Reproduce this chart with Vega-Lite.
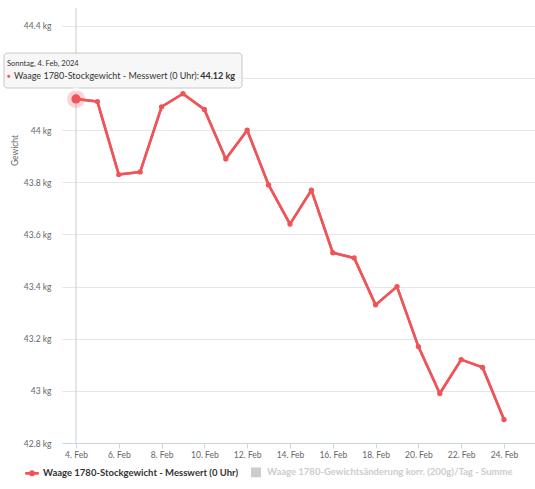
{
  "$schema": "https://vega.github.io/schema/vega-lite/v6.json",
  "width": 473,
  "height": 435,
  "autosize": {"type": "none"},
  "padding": {"left": 62, "top": 8, "right": 0, "bottom": 46},
  "config": {
    "font": "Lato",
    "view": {"stroke": null}
  },
  "datasets": {
    "w": [
      {"day": 4, "series": "Waage 1780-Stockgewicht - Messwert (0 Uhr)", "kg": 44.12},
      {"day": 5, "series": "Waage 1780-Stockgewicht - Messwert (0 Uhr)", "kg": 44.11},
      {"day": 6, "series": "Waage 1780-Stockgewicht - Messwert (0 Uhr)", "kg": 43.83},
      {"day": 7, "series": "Waage 1780-Stockgewicht - Messwert (0 Uhr)", "kg": 43.84},
      {"day": 8, "series": "Waage 1780-Stockgewicht - Messwert (0 Uhr)", "kg": 44.09},
      {"day": 9, "series": "Waage 1780-Stockgewicht - Messwert (0 Uhr)", "kg": 44.14},
      {"day": 10, "series": "Waage 1780-Stockgewicht - Messwert (0 Uhr)", "kg": 44.08},
      {"day": 11, "series": "Waage 1780-Stockgewicht - Messwert (0 Uhr)", "kg": 43.89},
      {"day": 12, "series": "Waage 1780-Stockgewicht - Messwert (0 Uhr)", "kg": 44.0},
      {"day": 13, "series": "Waage 1780-Stockgewicht - Messwert (0 Uhr)", "kg": 43.79},
      {"day": 14, "series": "Waage 1780-Stockgewicht - Messwert (0 Uhr)", "kg": 43.64},
      {"day": 15, "series": "Waage 1780-Stockgewicht - Messwert (0 Uhr)", "kg": 43.77},
      {"day": 16, "series": "Waage 1780-Stockgewicht - Messwert (0 Uhr)", "kg": 43.53},
      {"day": 17, "series": "Waage 1780-Stockgewicht - Messwert (0 Uhr)", "kg": 43.51},
      {"day": 18, "series": "Waage 1780-Stockgewicht - Messwert (0 Uhr)", "kg": 43.33},
      {"day": 19, "series": "Waage 1780-Stockgewicht - Messwert (0 Uhr)", "kg": 43.4},
      {"day": 20, "series": "Waage 1780-Stockgewicht - Messwert (0 Uhr)", "kg": 43.17},
      {"day": 21, "series": "Waage 1780-Stockgewicht - Messwert (0 Uhr)", "kg": 42.99},
      {"day": 22, "series": "Waage 1780-Stockgewicht - Messwert (0 Uhr)", "kg": 43.12},
      {"day": 23, "series": "Waage 1780-Stockgewicht - Messwert (0 Uhr)", "kg": 43.09},
      {"day": 24, "series": "Waage 1780-Stockgewicht - Messwert (0 Uhr)", "kg": 42.89}
    ]
  },
  "data": {"name": "w"},
  "layer": [
    {
      "mark": {"type": "line", "strokeWidth": 2.5, "strokeJoin": "round", "strokeCap": "round"},
      "encoding": {
        "x": {
          "field": "day", "type": "quantitative",
          "scale": {"domain": [3.346, 25.449], "nice": false, "zero": false},
          "axis": {
            "title": null, "values": [4, 6, 8, 10, 12, 14, 16, 18, 20, 22, 24],
            "labelExpr": "datum.value + '. Feb'", "grid": false,
            "domainColor": "#ccd6eb", "tickColor": "#ccd6eb", "tickSize": 5,
            "labelPadding": 2, "labelFontSize": 8.5, "labelColor": "#666666"
          }
        },
        "y": {
          "field": "kg", "type": "quantitative",
          "scale": {"domain": [42.8, 44.469], "nice": false, "zero": false},
          "axis": {
            "title": "Gewicht", "values": [42.8, 43, 43.2, 43.4, 43.6, 43.8, 44, 44.2, 44.4],
            "labelExpr": "abs(datum.value - 44.2) < 0.001 ? '' : format(datum.value, '.1~f') + ' kg'",
            "grid": true, "gridColor": "#e6e6e6", "domain": false, "ticks": false,
            "labelPadding": 11, "labelFontSize": 8.5, "labelColor": "#666666",
            "titleFontSize": 8.5, "titleColor": "#666666", "titleFontWeight": "normal",
            "titleX": -43, "titleY": 142
          }
        },
        "color": {
          "field": "series", "type": "nominal",
          "scale": {
            "domain": ["Waage 1780-Stockgewicht - Messwert (0 Uhr)", "Waage 1780-Gewichtsänderung korr. (200g)/Tag - Summe"],
            "range": ["#ef5459", "#cccccc"]
          },
          "legend": {
            "orient": "none", "legendX": -37, "legendY": 457, "direction": "horizontal",
            "title": null, "labelFontSize": 9.5, "labelFontWeight": "bold", "labelLimit": 400,
            "symbolSize": 144, "labelOffset": 4, "columnPadding": 9,
            "encode": {
              "symbols": {"update": {
                "shape": {"signal": "indexof(datum.value, 'Stockgewicht') >= 0 ? 'M-1,-0.09H-0.4A0.42,0.42 0 0,1 0.4,-0.09H1V0.09H0.4A0.42,0.42 0 0,1 -0.4,0.09H-1Z' : 'M-0.7,-0.7H0.7V0.7H-0.7Z'"},
                "fill": {"signal": "indexof(datum.value, 'Stockgewicht') >= 0 ? '#ef5459' : '#cccccc'"},
                "stroke": {"value": "transparent"},
                "opacity": {"value": 1}
              }},
              "labels": {"update": {
                "fill": {"signal": "indexof(datum.value, 'Stockgewicht') >= 0 ? '#333333' : '#cccccc'"}
              }}
            }
          }
        }
      }
    },
    {
      "data": {"values": [{}]},
      "mark": {"type": "rule", "color": "#cccccc", "strokeWidth": 1},
      "encoding": {
        "x": {"datum": 4, "type": "quantitative"}
      }
    },
    {
      "mark": {"type": "line", "strokeWidth": 2.5, "strokeJoin": "round", "strokeCap": "round", "color": "#ef5459"},
      "encoding": {
        "x": {"field": "day", "type": "quantitative"},
        "y": {"field": "kg", "type": "quantitative"}
      }
    },
    {
      "mark": {"type": "point", "filled": true, "size": 28, "color": "#ef5459", "opacity": 1},
      "encoding": {
        "x": {"field": "day", "type": "quantitative"},
        "y": {"field": "kg", "type": "quantitative"}
      }
    },
    {
      "transform": [{"filter": "datum.day == 4"}],
      "mark": {"type": "point", "filled": true, "size": 330, "color": "#ef5459", "opacity": 0.25},
      "encoding": {
        "x": {"field": "day", "type": "quantitative"},
        "y": {"field": "kg", "type": "quantitative"}
      }
    },
    {
      "transform": [{"filter": "datum.day == 4"}],
      "mark": {"type": "point", "filled": true, "size": 85, "color": "#ef5459", "opacity": 1},
      "encoding": {
        "x": {"field": "day", "type": "quantitative"},
        "y": {"field": "kg", "type": "quantitative"}
      }
    },
    {
      "data": {"values": [{}]},
      "mark": {"type": "rect", "fill": "#f7f7f7", "fillOpacity": 0.95, "stroke": "#c8c8c8", "strokeWidth": 1, "cornerRadius": 3, "clip": false},
      "encoding": {
        "x": {"datum": 0.636, "type": "quantitative"},
        "x2": {"datum": 11.757},
        "y": {"datum": 44.296, "type": "quantitative"},
        "y2": {"datum": 44.162}
      }
    },
    {
      "data": {"values": [{}]},
      "mark": {"type": "point", "shape": "triangle-down", "filled": true, "size": 40, "fill": "#f7f7f7", "opacity": 1, "clip": false},
      "encoding": {
        "x": {"datum": 4, "type": "quantitative"},
        "y": {"datum": 44.153, "type": "quantitative"}
      }
    },
    {
      "data": {"values": [{}]},
      "mark": {"type": "text", "align": "left", "baseline": "middle", "fontSize": 7.5, "color": "#333333", "clip": false},
      "encoding": {
        "x": {"datum": 0.776, "type": "quantitative"},
        "y": {"datum": 44.254, "type": "quantitative"},
        "text": {"value": "Sonntag, 4. Feb, 2024"}
      }
    },
    {
      "data": {"values": [{}]},
      "mark": {"type": "text", "align": "left", "baseline": "middle", "fontSize": 6, "color": "#ef5459", "clip": false},
      "encoding": {
        "x": {"datum": 0.776, "type": "quantitative"},
        "y": {"datum": 44.21, "type": "quantitative"},
        "text": {"value": "●"}
      }
    },
    {
      "data": {"values": [{}]},
      "mark": {"type": "text", "align": "left", "baseline": "middle", "fontSize": 9, "color": "#333333", "clip": false},
      "encoding": {
        "x": {"datum": 1.103, "type": "quantitative"},
        "y": {"datum": 44.21, "type": "quantitative"},
        "text": {"value": "Waage 1780-Stockgewicht - Messwert (0 Uhr):"}
      }
    },
    {
      "transform": [{"filter": "datum.day == 4"}, {"calculate": "format(datum.kg, '.2f') + ' kg'", "as": "lbl"}],
      "mark": {"type": "text", "align": "right", "baseline": "middle", "fontSize": 9, "fontWeight": "bold", "color": "#333333", "clip": false},
      "encoding": {
        "x": {"datum": 11.43, "type": "quantitative"},
        "y": {"datum": 44.21, "type": "quantitative"},
        "text": {"field": "lbl"}
      }
    }
  ]
}
